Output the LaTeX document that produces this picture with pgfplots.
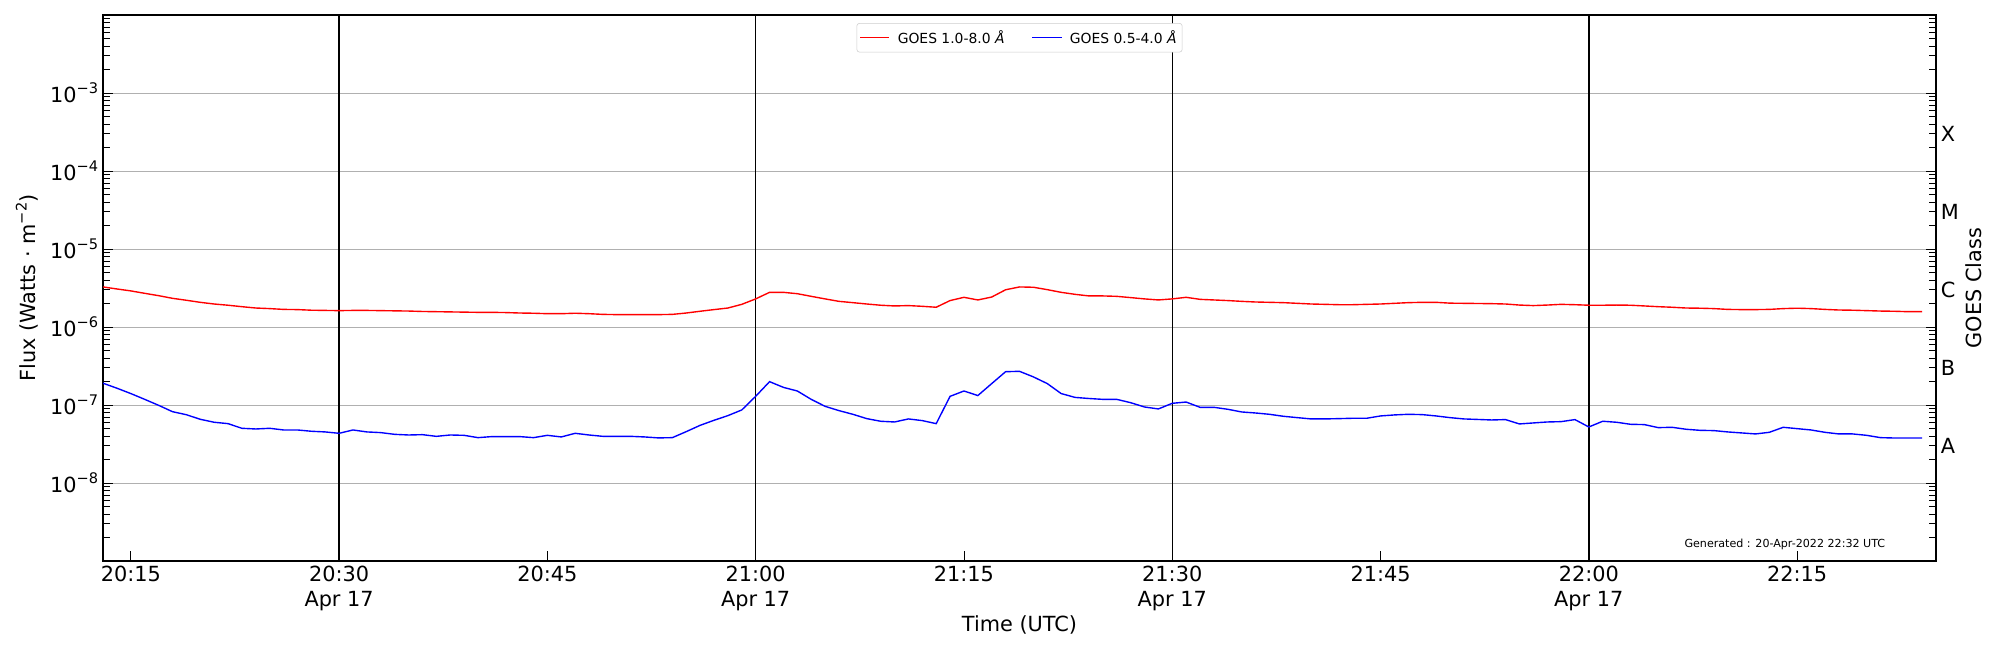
\documentclass[border=0pt]{standalone}
\usepackage{fontspec}
\setmainfont{DejaVu Sans}
\usepackage{pgfplots}
\pgfplotsset{compat=1.18}
\usepackage{pgfplotstable}
\definecolor{gridgray}{HTML}{B0B0B0}
\definecolor{legframe}{HTML}{CCCCCC}
\newcommand{\sups}[1]{\raisebox{6.2pt}{\fontsize{10.5}{12}\selectfont #1}}
\newcommand{\fs}{\fontsize{15}{18}\selectfont}

\pgfplotstableread{
t flux
13 3.26e-6
14 3.07e-6
15 2.90e-6
16 2.70e-6
17 2.52e-6
18 2.33e-6
19 2.20e-6
20 2.07e-6
21 1.97e-6
22 1.90e-6
23 1.82e-6
24 1.75e-6
25 1.72e-6
26 1.68e-6
27 1.67e-6
28 1.64e-6
29 1.63e-6
30 1.62e-6
31 1.63e-6
32 1.63e-6
33 1.62e-6
34 1.61e-6
35 1.60e-6
36 1.58e-6
37 1.57e-6
38 1.56e-6
39 1.55e-6
40 1.54e-6
41 1.54e-6
42 1.53e-6
43 1.51e-6
44 1.50e-6
45 1.48e-6
46 1.48e-6
47 1.50e-6
48 1.48e-6
49 1.45e-6
50 1.44e-6
51 1.44e-6
52 1.44e-6
53 1.44e-6
54 1.45e-6
55 1.51e-6
56 1.59e-6
57 1.67e-6
58 1.75e-6
59 1.95e-6
60 2.29e-6
61 2.78e-6
62 2.78e-6
63 2.67e-6
64 2.47e-6
65 2.29e-6
66 2.13e-6
67 2.05e-6
68 1.97e-6
69 1.90e-6
70 1.86e-6
71 1.88e-6
72 1.84e-6
73 1.79e-6
74 2.18e-6
75 2.40e-6
76 2.22e-6
77 2.42e-6
78 3.00e-6
79 3.26e-6
80 3.23e-6
81 3.01e-6
82 2.78e-6
83 2.62e-6
84 2.50e-6
85 2.50e-6
86 2.47e-6
87 2.38e-6
88 2.29e-6
89 2.22e-6
90 2.29e-6
91 2.40e-6
92 2.26e-6
93 2.22e-6
94 2.18e-6
95 2.13e-6
96 2.09e-6
97 2.07e-6
98 2.05e-6
99 2.01e-6
100 1.97e-6
101 1.95e-6
102 1.93e-6
103 1.93e-6
104 1.95e-6
105 1.97e-6
106 2.01e-6
107 2.05e-6
108 2.07e-6
109 2.07e-6
110 2.02e-6
111 2.01e-6
112 2.00e-6
113 1.99e-6
114 1.97e-6
115 1.91e-6
116 1.88e-6
117 1.91e-6
118 1.95e-6
119 1.93e-6
120 1.90e-6
121 1.90e-6
122 1.91e-6
123 1.90e-6
124 1.86e-6
125 1.82e-6
126 1.79e-6
127 1.75e-6
128 1.74e-6
129 1.72e-6
130 1.68e-6
131 1.67e-6
132 1.67e-6
133 1.68e-6
134 1.72e-6
135 1.74e-6
136 1.72e-6
137 1.68e-6
138 1.65e-6
139 1.64e-6
140 1.62e-6
141 1.60e-6
142 1.59e-6
143 1.57e-6
144 1.57e-6
}\longdata

\pgfplotstableread{
t flux
13 1.90e-7
14 1.64e-7
15 1.40e-7
16 1.18e-7
17 9.9e-8
18 8.2e-8
19 7.5e-8
20 6.55e-8
21 6.0e-8
22 5.76e-8
23 5.02e-8
24 4.92e-8
25 5.02e-8
26 4.78e-8
27 4.78e-8
28 4.60e-8
29 4.51e-8
30 4.33e-8
31 4.78e-8
32 4.51e-8
33 4.42e-8
34 4.20e-8
35 4.12e-8
36 4.16e-8
37 3.96e-8
38 4.12e-8
39 4.08e-8
40 3.81e-8
41 3.93e-8
42 3.93e-8
43 3.93e-8
44 3.81e-8
45 4.08e-8
46 3.89e-8
47 4.33e-8
48 4.12e-8
49 3.96e-8
50 3.96e-8
51 3.96e-8
52 3.89e-8
53 3.78e-8
54 3.81e-8
55 4.55e-8
56 5.48e-8
57 6.36e-8
58 7.30e-8
59 8.63e-8
60 1.29e-7
61 1.99e-7
62 1.68e-7
63 1.51e-7
64 1.18e-7
65 9.6e-8
66 8.46e-8
67 7.59e-8
68 6.68e-8
69 6.18e-8
70 6.05e-8
71 6.62e-8
72 6.30e-8
73 5.76e-8
74 1.29e-7
75 1.51e-7
76 1.32e-7
77 1.88e-7
78 2.67e-7
79 2.70e-7
80 2.29e-7
81 1.88e-7
82 1.40e-7
83 1.25e-7
84 1.21e-7
85 1.18e-7
86 1.18e-7
87 1.07e-7
88 9.42e-8
89 8.89e-8
90 1.05e-7
91 1.09e-7
92 9.33e-8
93 9.33e-8
94 8.80e-8
95 8.13e-8
96 7.89e-8
97 7.59e-8
98 7.16e-8
99 6.88e-8
100 6.62e-8
101 6.62e-8
102 6.68e-8
103 6.75e-8
104 6.75e-8
105 7.23e-8
106 7.45e-8
107 7.59e-8
108 7.52e-8
109 7.23e-8
110 6.88e-8
111 6.62e-8
112 6.52e-8
113 6.42e-8
114 6.49e-8
115 5.71e-8
116 5.88e-8
117 6.05e-8
118 6.11e-8
119 6.49e-8
120 5.22e-8
121 6.18e-8
122 6.00e-8
123 5.65e-8
124 5.60e-8
125 5.12e-8
126 5.17e-8
127 4.88e-8
128 4.73e-8
129 4.69e-8
130 4.51e-8
131 4.38e-8
132 4.25e-8
133 4.46e-8
134 5.17e-8
135 4.97e-8
136 4.78e-8
137 4.46e-8
138 4.25e-8
139 4.25e-8
140 4.08e-8
141 3.81e-8
142 3.77e-8
143 3.77e-8
144 3.77e-8
}\shortdata

\begin{document}
\begin{tikzpicture}
\useasboundingbox (-74.2pt,-64.1pt) rectangle (1365.9pt,403.9pt);
\begin{axis}[
  scale only axis, width=1319.8pt, height=393.1pt,
  at={(0,0)}, anchor=south west,
  xmin=13, xmax=145,
  ymode=log, ymin=1e-9, ymax=1e-2,
  xtick={15,30,45,60,75,90,105,120,135},
  xticklabels={20:15,{20:30\\Apr 17},20:45,{21:00\\Apr 17},21:15,{21:30\\Apr 17},21:45,{22:00\\Apr 17},22:15},
  xticklabel style={align=center, font=\fontsize{15}{18.3}\selectfont},
  ytick={1e-8,1e-7,1e-6,1e-5,1e-4,1e-3},
  yticklabels={10\sups{−8},10\sups{−7},10\sups{−6},10\sups{−5},10\sups{−4},10\sups{−3}},
  yticklabel style={font=\fs},
  minor ytick={2e-9,3e-9,4e-9,5e-9,6e-9,7e-9,8e-9,9e-9,
    2e-8,3e-8,4e-8,5e-8,6e-8,7e-8,8e-8,9e-8,
    2e-7,3e-7,4e-7,5e-7,6e-7,7e-7,8e-7,9e-7,
    2e-6,3e-6,4e-6,5e-6,6e-6,7e-6,8e-6,9e-6,
    2e-5,3e-5,4e-5,5e-5,6e-5,7e-5,8e-5,9e-5,
    2e-4,3e-4,4e-4,5e-4,6e-4,7e-4,8e-4,9e-4,
    2e-3,3e-3,4e-3,5e-3,6e-3,7e-3,8e-3,9e-3},
  tick align=inside, xtick pos=left, ytick pos=both, yticklabel pos=left,
  major tick length=7pt, minor tick length=5pt,
  every tick/.style={black, line width=0.6pt},
  ymajorgrids, major grid style={gridgray, line width=0.6pt},
  extra x ticks={30,60,90,120}, extra x tick labels={},
  extra x tick style={xmajorgrids=true, major grid style={black, line width=1pt}},
  axis line style={line width=0.9pt},
  xlabel={Time (UTC)},
  xlabel style={at={(axis description cs:0.5,-0.1172)}, anchor=center, font=\fs},
  ylabel={Flux (Watts · m\sups{−2})},
  ylabel style={at={(axis description cs:-0.0415,0.5)}, anchor=center, font=\fs},
  legend style={at={(0.5,0.9853)}, anchor=north, legend columns=2, draw=legframe,
    rounded corners=2pt, font=\fontsize{10}{12}\selectfont, inner xsep=2pt, inner ysep=3pt,
    /tikz/every even column/.append style={column sep=17.5pt}},
  legend image code/.code={\draw[#1] (0pt,0pt) -- (21pt,0pt); \path (24.5pt,0pt);},
  legend cell align=left,
]
\addplot[red, line width=1pt] table[x=t, y=flux] {\longdata};
\addlegendentry{GOES 1.0-8.0 {\itshape Å}}
\addplot[blue, line width=1pt] table[x=t, y=flux] {\shortdata};
\addlegendentry{GOES 0.5-4.0 {\itshape Å}}
\node[anchor=east, font=\fontsize{8}{9.6}\selectfont] at (rel axis cs:0.975,0.030) {Generated : 20-Apr-2022 22:32 UTC};
\end{axis}
\begin{axis}[
  scale only axis, width=1319.8pt, height=393.1pt,
  at={(0,0)}, anchor=south west,
  xmin=13, xmax=145,
  ymode=log, ymin=1e-9, ymax=1e-2,
  axis x line=none, axis y line*=right,
  y axis line style={draw=none},
  ytick={3e-8,3e-7,3e-6,3e-5,3e-4},
  yticklabels={A,B,C,M,X},
  yticklabel style={font=\fs},
  major tick length=0pt, minor tick length=0pt,
  ylabel={GOES Class},
  ylabel style={at={(axis description cs:1.0207,0.5)}, anchor=center, font=\fs},
]
\end{axis}
\end{tikzpicture}
\end{document}
